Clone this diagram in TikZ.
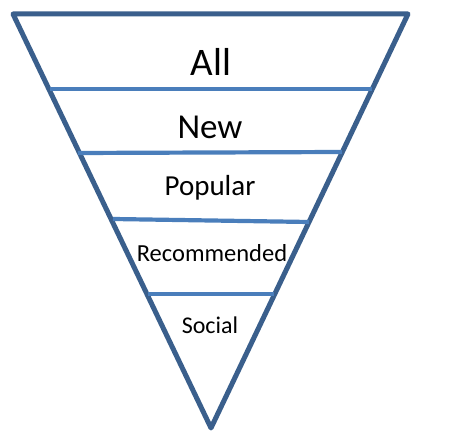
\documentclass[tikz,border=0pt]{standalone}
\usepackage{fontspec}
\setmainfont{Carlito}
\usepackage{tikz}
\usetikzlibrary{positioning, calc}

\definecolor{funnelblue}{HTML}{3A5F8C}
\definecolor{layerblue}{HTML}{4A7EBB}

\begin{document}
\begin{tikzpicture}[
        x=1pt, y=-1pt,
        every node/.style={align=center, inner sep=0pt},
        funnel/.style={draw=funnelblue, line width=5pt, line join=round},
        layer/.style={draw=layerblue, line width=4.2pt},
        lbl/.style={text=black}
    ]
    \useasboundingbox (0,0) rectangle (467,438);

    % funnel outline
    \coordinate (tl) at (13,14);
    \coordinate (tr) at (408,14);
    \coordinate (tip) at (211,428);
    \draw[funnel] (tl) -- (tr) -- (tip) -- cycle;

    % layer separators
    \draw[layer] (50,89) -- (372,89);
    \draw[layer] (78,153) -- (342,152);
    \draw[layer] (113,219) -- (309,222);
    \draw[layer] (148,294) -- (274,294);

    \node[lbl, font=\fontsize{39}{39}\selectfont] (all) at (211,62) {All};
    \node[lbl, font=\fontsize{35}{35}\selectfont] (new) at (210,127) {New};
    \node[lbl, font=\fontsize{29}{29}\selectfont] (popular) at (210,188) {Popular};
    \node[lbl, font=\fontsize{24.5}{24.5}\selectfont] (recommended) at (212,253) {Recommended};
    \node[lbl, font=\fontsize{24}{24}\selectfont] (social) at (210,325) {Social};

\end{tikzpicture}
\end{document}
